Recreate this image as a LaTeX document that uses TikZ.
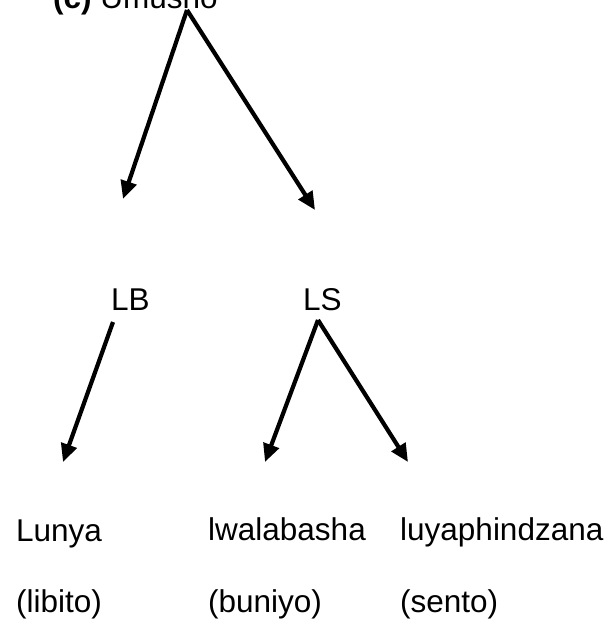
\documentclass[tikz,border=0pt]{standalone}
\usepackage{fontspec}
\setmainfont{Liberation Sans}
\usetikzlibrary{arrows.meta}
\begin{document}
\begin{tikzpicture}[x=1pt,y=-1pt,
  lbl/.style={anchor=base west,inner sep=0pt,font=\fontsize{31.5}{36}\selectfont},
  arr/.style={line width=4.2pt,-{Triangle[length=18pt,width=16pt]}}]
\useasboundingbox (0,0) rectangle (611,627);
\node[lbl] (top) at (53,8) {\textbf{(c)} Umusho};
\node[lbl] (lb) at (111,310) {LB};
\node[lbl] (ls) at (303,310) {LS};
\node[lbl] (lunya) at (16,541) {Lunya};
\node[lbl] (lwala) at (208,540) {lwalabasha};
\node[lbl] (luya) at (400,540) {luyaphindzana};
\node[lbl] (libito) at (16,612) {(libito)};
\node[lbl] (buniyo) at (208,612) {(buniyo)};
\node[lbl] (sento) at (400,612) {(sento)};
\coordinate (a0) at (187,10);
\coordinate (a1) at (123,199);
\coordinate (a2) at (315,210);
\coordinate (b0) at (113,322);
\coordinate (b1) at (63,462);
\coordinate (c0) at (318,320);
\coordinate (c1) at (265,462);
\coordinate (c2) at (408,462);
\draw[arr] (a0) -- (a1);
\draw[arr] (a0) -- (a2);
\draw[arr] (b0) -- (b1);
\draw[arr] (c0) -- (c1);
\draw[arr] (c0) -- (c2);
\end{tikzpicture}
\end{document}
